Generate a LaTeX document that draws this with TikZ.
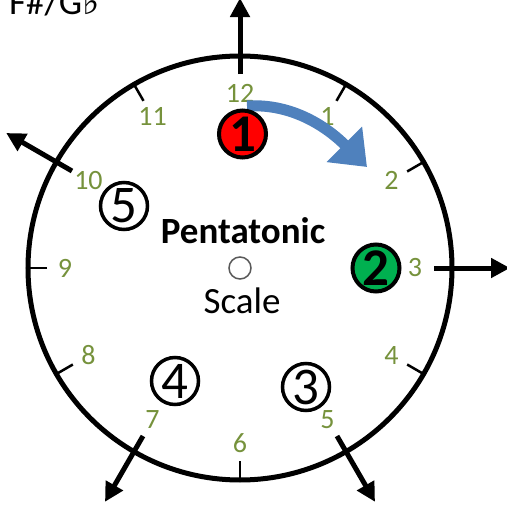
\documentclass[tikz,border=0pt]{standalone}
\usepackage{fontspec}
\setmainfont{Carlito}
\newfontfamily\symfont{DejaVu Sans}
\usetikzlibrary{arrows.meta,calc}
\definecolor{hourgreen}{RGB}{118,146,60}
\definecolor{arrowblue}{RGB}{79,129,189}
\definecolor{badgered}{RGB}{255,0,0}
\definecolor{badgegreen}{RGB}{0,176,80}
\definecolor{hubgray}{RGB}{89,89,89}
\tikzset{
  dialring/.style={draw, line width=5pt, circle, minimum size=424pt, inner sep=0pt},
  tickln/.style={line width=2.5pt},
  hourarrow/.style={line width=5pt, -{Triangle[length=19pt,width=19pt]}},
  hournum/.style={text=hourgreen, font=\fontsize{28}{32}\selectfont, inner sep=0pt},
  badge/.style={circle, draw, line width=#1, inner sep=0pt, minimum size=47pt,
    font=\fontsize{53}{60}\selectfont},
  bluearrow/.style={draw=arrowblue, line width=11pt, -{Triangle[length=32pt,width=48pt]}, arrowblue},
  bigtext/.style={font=\fontsize{37}{44}\selectfont, inner sep=0pt},
}
\begin{document}
\begin{tikzpicture}[x=1pt, y=-1pt]
\useasboundingbox (0,0) rectangle (507,506);
\clip (0,0) rectangle (507,506);
\coordinate (c) at (240,268);
\node[dialring] (dial) at (c) {};
% ticks and arrows
\foreach \h in {1,2,4,6,8,9,11} {
  \coordinate (ti\h) at ($(c)+(30*\h-90:193)$);
  \coordinate (to\h) at ($(c)+(30*\h-90:213)$);
  \draw[tickln] (ti\h) -- (to\h);
}
\foreach \h in {0,3,5,7,10} {
  \coordinate (ai\h) at ($(c)+(30*\h-90:194)$);
  \coordinate (ao\h) at ($(c)+(30*\h-90:270)$);
  \draw[hourarrow] (ai\h) -- (ao\h);
}
% hour numbers
\foreach \h/\lab in {0/12,1/1,2/2,3/3,4/4,5/5,6/6,7/7,8/8,9/9,10/10,11/11} {
  \node[hournum] (n\h) at ($(c)+(30*\h-90:175)$) {\lab};
}
% hub
\node[circle, draw=hubgray, line width=1.5pt, minimum size=22pt, inner sep=0pt] (hub) at (c) {};
\node[bigtext, font=\fontsize{37}{44}\selectfont\bfseries, anchor=base] (pent) at (243,243) {Pentatonic};
\node[bigtext, anchor=base] (scale) at (242,313) {Scale};
% blue arrow
\coordinate (bs) at (247,106);
\coordinate (bt) at (367,167);
\draw[bluearrow] (bs) .. controls (295,103) and (330,130) .. (bt);
% badges
\node[badge=4pt, fill=badgered, font=\fontsize{53}{60}\selectfont\bfseries] (b1) at (242.5,134) {1};
\node[badge=4pt, fill=badgegreen, font=\fontsize{53}{60}\selectfont\bfseries] (b2) at (376,268) {2};
\node[badge=3.5pt] (b3) at (306,387) {3};
\node[badge=3.5pt] (b4) at (175,381) {4};
\node[badge=3.5pt] (b5) at (124,206) {5};
% top-left key label
\node[bigtext, anchor=base west] (key) at (9,14) {F\#/G{\symfont ♭}};
\end{tikzpicture}
\end{document}
